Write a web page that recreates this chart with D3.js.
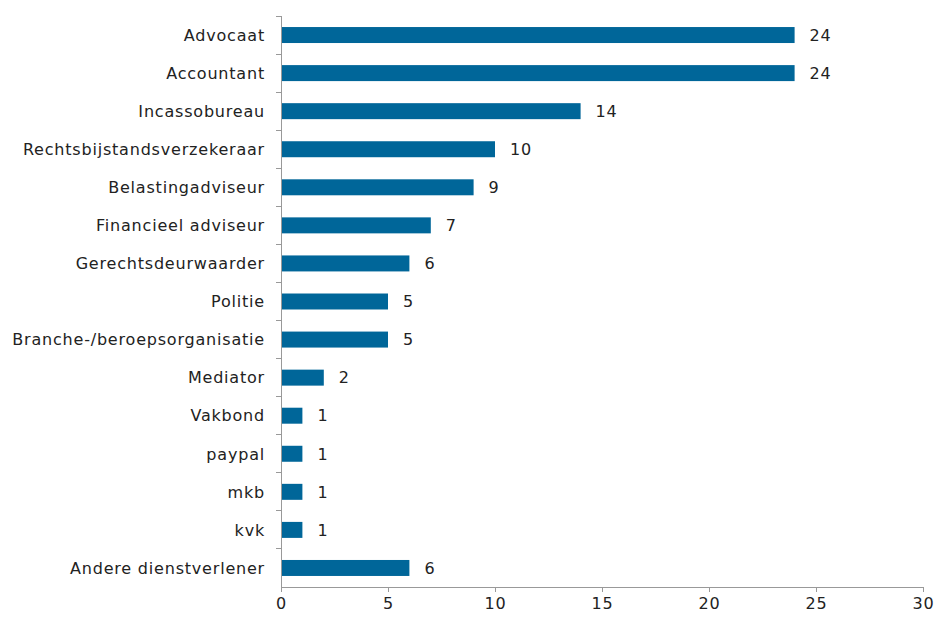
<!DOCTYPE html>
<html>
<head>
<meta charset="utf-8">
<script src="https://cdn.jsdelivr.net/npm/d3@7"></script>
<style>
  body { margin: 0; background: #fff; }
  svg text { font-family: "DejaVu Sans", Verdana, sans-serif; fill: #222; }
</style>
</head>
<body>
<svg width="937" height="617"></svg>
<script>
var categories = ["Advocaat", "Accountant", "Incassobureau", "Rechtsbijstandsverzekeraar",
    "Belastingadviseur", "Financieel adviseur", "Gerechtsdeurwaarder", "Politie",
    "Branche-/beroepsorganisatie", "Mediator", "Vakbond", "paypal", "mkb", "kvk",
    "Andere dienstverlener"];
var values = [24, 24, 14, 10, 9, 7, 6, 5, 5, 2, 1, 1, 1, 1, 6];
var xTicks = [0, 5, 10, 15, 20, 25, 30];

var svg = d3.select("svg"),
    margin = {top: 16, right: 14, bottom: 30, left: 281},
    width = +svg.attr("width") - margin.left - margin.right,
    height = +svg.attr("height") - margin.top - margin.bottom;

var g = svg.append("g").attr("transform", "translate(" + margin.left + "," + margin.top + ")");

var x = d3.scaleLinear().domain([0, 30]).range([0, 642]);
var y = d3.scaleBand().domain(categories).range([0, 571]).paddingInner(0.58).paddingOuter(0.29);

// bars
g.selectAll("rect")
    .data(categories)
    .enter().append("rect")
        .attr("x", 0)
        .attr("y", function(d) { return y(d); })
        .attr("width", function(d, i) { return x(values[i]); })
        .attr("height", y.bandwidth())
        .attr("fill", "#006699");

// value labels
g.selectAll(".val")
    .data(categories)
    .enter().append("text")
        .attr("class", "val")
        .attr("x", function(d, i) { return x(values[i]) + 15; })
        .attr("y", function(d) { return y(d) + y.bandwidth() / 2; })
        .attr("dy", "0.36em")
        .style("font-size", "16px")
        .style("letter-spacing", "0.8px")
        .text(function(d, i) { return values[i]; });

// x axis
var xAxis = g.append("g")
    .attr("transform", "translate(0,571)")
    .call(d3.axisBottom(x).tickValues(xTicks).tickSize(5).tickPadding(6));
xAxis.selectAll("text").style("font-size", "16px").style("letter-spacing", "0.8px");

// y axis with ticks between categories
var yAxis = g.append("g");
yAxis.append("line")
    .attr("x1", 0).attr("x2", 0).attr("y1", 0).attr("y2", 571);
var step = 571 / categories.length;
yAxis.selectAll(".yt")
    .data(d3.range(categories.length))
    .enter().append("line")
        .attr("class", "yt")
        .attr("x1", -5).attr("x2", 0)
        .attr("y1", function(i) { return i * step; })
        .attr("y2", function(i) { return i * step; });
yAxis.selectAll("line").attr("stroke", "#999").attr("shape-rendering", "crispEdges");

g.selectAll(".cat")
    .data(categories)
    .enter().append("text")
        .attr("class", "cat")
        .attr("x", -16)
        .attr("y", function(d) { return y(d) + y.bandwidth() / 2; })
        .attr("dy", "0.36em")
        .attr("text-anchor", "end")
        .style("font-size", "16px")
        .style("letter-spacing", "0.8px")
        .text(function(d) { return d; });

xAxis.select(".domain").attr("stroke", "#999");
xAxis.selectAll(".tick line").attr("stroke", "#999");
xAxis.selectAll("text").style("fill", "#222");
</script>
</body>
</html>
